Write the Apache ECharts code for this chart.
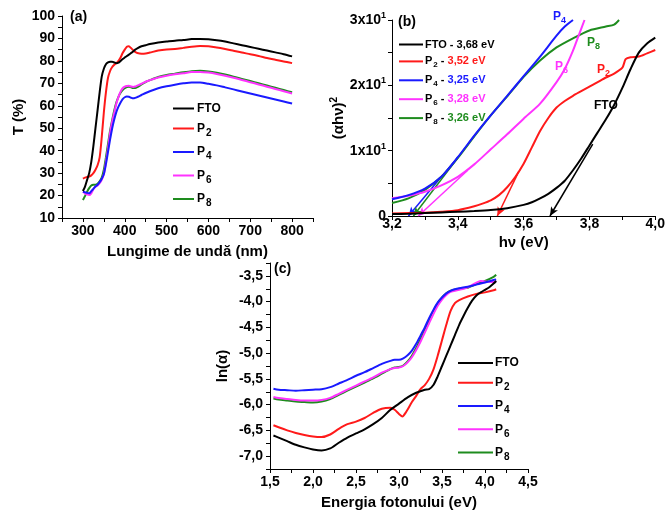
<!DOCTYPE html>
<html><head><meta charset="utf-8">
<script src="https://cdn.jsdelivr.net/npm/echarts@6/dist/echarts.min.js"></script>
<style>html,body{margin:0;padding:0;background:#fff}#c{width:668px;height:512px}</style>
</head><body><div id="c"></div>
<script>
// ---------- common ----------
const seriesNames = ['FTO', 'P2', 'P4', 'P6', 'P8'];
const seriesColors = ['#000000', '#ff1a1a', '#1a1aff', '#ff33ff', '#1e8c1e'];
const gapLabels = ['3,68 eV', '3,52 eV', '3,25 eV', '3,28 eV', '3,26 eV'];

// ---------- panel (a): transmittance ----------
const wavelengthA = [300,305,310,315,320,325,330,335,340,345,350,355,360,365,370,375,380,385,390,395,400,405,410,415,420,425,430,440,450,460,480,500,520,540,560,580,600,620,640,660,680,700,720,740,760,780,800];
const tFTO = [22,24,27,30,35,42,50,58,66,73,76.5,78.5,79.3,79.6,79.6,79.3,79,79.2,80,80.8,81.5,82.2,82.8,83.5,84.2,85,85.6,86.5,87,87.5,88.2,88.6,89,89.3,89.7,89.8,89.6,89.2,88.6,87.8,87,86.2,85.4,84.6,83.8,83,82];
const tP2 = [27.5,28,28.3,28.5,29,30,31.5,33.5,37,46,57,66,72.5,75.5,77.3,78.3,79,80,81.5,83.5,85,86.3,86.5,85.7,84.8,84,83.5,83.2,83.3,83.7,84.6,85.1,85.3,85.8,86.3,86.6,86.5,86,85.3,84.5,83.7,83,82.2,81.3,80.5,79.7,79];
const tP4 = [21.7,21.5,21.2,21,22,23,24,24.8,26,27.5,29.5,34,39.5,45,50,54,57.3,59.6,61.5,63,63.8,64.1,64,63.6,63.3,63.5,63.9,64.8,65.7,66.5,67.8,68.7,69.4,70,70.4,70.4,69.8,69.1,68.2,67.3,66.4,65.5,64.6,63.7,62.8,61.9,61];
const tP6 = [21.7,21,20.5,20.2,21,22.8,23.9,24.5,25.5,27,29.5,35,41,48,53,57,61,64,66.3,67.8,68.5,68.8,68.9,68.6,68.4,68.6,69,69.8,70.7,71.4,72.6,73.4,74,74.5,75,75.1,74.8,74.2,73.4,72.5,71.5,70.5,69.5,68.5,67.5,66.5,65.5];
const tP8 = [18,19.8,21.7,23.3,24.5,24.8,24.8,25.2,26.3,28,31.5,37,43,49,53.7,58,61.5,64,65.8,67,67.8,68.3,68.5,68.2,67.9,67.9,68.3,69.5,70.6,71.4,72.8,73.7,74.3,74.9,75.4,75.6,75.3,74.7,73.9,73,72,71,70,69,68,67,66];
const valuesA = [tFTO, tP2, tP4, tP6, tP8];

// ---------- panel (b): Tauc plot ----------
const eB_FTO = [3.20,3.25,3.30,3.35,3.40,3.45,3.50,3.55,3.60,3.625,3.65,3.675,3.70,3.725,3.75,3.775,3.80,3.825,3.85,3.875,3.90,3.925,3.95,3.975,4.00];
const vB_FTO = [0.3,0.35,0.45,0.55,0.65,0.75,0.9,1.2,1.7,2.1,2.7,3.4,4.3,5.4,7.0,8.8,10.8,12.8,14.8,17,19.6,22.5,25,26.4,27.3];
const eB_P2 = [3.20,3.25,3.30,3.35,3.40,3.45,3.475,3.50,3.525,3.55,3.575,3.60,3.625,3.65,3.675,3.70,3.725,3.75,3.775,3.80,3.825,3.85,3.875,3.90,3.91,3.925,3.95,3.975,4.00];
const vB_P2 = [0.4,0.45,0.5,0.65,0.9,1.5,1.9,2.4,3.2,4.4,6.0,8.0,10.5,13.0,15.0,16.6,17.6,18.4,19.1,19.8,20.5,21.2,21.8,22.7,24.0,24.3,24.4,24.9,25.4];
const eB_P4 = [3.20,3.25,3.30,3.35,3.40,3.45,3.50,3.55,3.60,3.65,3.70,3.725,3.75];
const vB_P4 = [2.55,3.2,4.2,6.0,9.0,12.3,15.4,18.4,21.4,24.4,27.6,29.0,30];
const eB_P6 = [3.20,3.25,3.30,3.35,3.40,3.45,3.50,3.55,3.60,3.65,3.70,3.725,3.75,3.77,3.785];
const vB_P6 = [2.7,3.1,3.7,4.7,6.0,7.9,10.2,12.5,14.9,17.2,20.5,22.5,25.3,28.0,30];
const eB_P8 = [3.20,3.25,3.30,3.35,3.40,3.45,3.50,3.55,3.60,3.65,3.70,3.75,3.80,3.85,3.875,3.89];
const vB_P8 = [2.0,2.7,4.0,6.0,8.9,12.2,15.4,18.3,21.3,23.8,25.8,27.2,28.4,29.0,29.3,30];
const energyB = [eB_FTO, eB_P2, eB_P4, eB_P6, eB_P8];
const valuesB = [vB_FTO, vB_P2, vB_P4, vB_P6, vB_P8];
// tangent (extrapolation) lines: [intercept point, upper point]
const tangentFTO = [[3.68, 0], [3.81, 11]];
const tangentP2 = [[3.52, 0], [3.585, 6.8]];
const tangentP4 = [[3.25, 0], [3.40, 9.0]];
const tangentP6 = [[3.28, 0], [3.43, 7.0]];
const tangentP8 = [[3.265, 0], [3.40, 8.9]];
const tangentsB = [tangentFTO, tangentP2, tangentP4, tangentP6, tangentP8];

// ---------- panel (c): ln(alpha) ----------
const eC_FTO = [1.54,1.6,1.7,1.8,1.9,2.0,2.1,2.2,2.3,2.4,2.5,2.6,2.7,2.8,2.9,3.0,3.1,3.2,3.3,3.35,3.4,3.45,3.5,3.55,3.6,3.65,3.7,3.75,3.8,3.85,3.9,3.95,4.0,4.05,4.1,4.13];
const vC_FTO = [-6.60,-6.64,-6.71,-6.78,-6.83,-6.87,-6.89,-6.85,-6.74,-6.64,-6.56,-6.48,-6.38,-6.26,-6.10,-5.98,-5.86,-5.77,-5.71,-5.70,-5.62,-5.45,-5.25,-5.05,-4.85,-4.65,-4.45,-4.28,-4.12,-3.98,-3.88,-3.82,-3.77,-3.72,-3.65,-3.60];
const eC_P2 = [1.54,1.6,1.7,1.8,1.9,2.0,2.1,2.2,2.3,2.4,2.5,2.6,2.7,2.8,2.9,2.95,3.0,3.04,3.08,3.15,3.2,3.25,3.3,3.35,3.4,3.45,3.5,3.55,3.6,3.65,3.7,3.8,3.9,4.0,4.1,4.13];
const vC_P2 = [-6.40,-6.44,-6.50,-6.55,-6.59,-6.62,-6.63,-6.58,-6.47,-6.38,-6.33,-6.26,-6.16,-6.08,-6.06,-6.10,-6.18,-6.23,-6.15,-5.95,-5.83,-5.70,-5.62,-5.50,-5.32,-5.05,-4.75,-4.45,-4.18,-4.03,-3.97,-3.90,-3.85,-3.82,-3.78,-3.76];
const eC_P4 = [1.54,1.6,1.7,1.8,1.9,2.0,2.1,2.2,2.3,2.4,2.5,2.6,2.7,2.8,2.9,2.95,3.0,3.05,3.1,3.15,3.2,3.25,3.3,3.35,3.4,3.45,3.5,3.55,3.6,3.65,3.7,3.8,3.9,4.0,4.1,4.13];
const vC_P4 = [-5.69,-5.71,-5.72,-5.73,-5.72,-5.71,-5.70,-5.66,-5.59,-5.52,-5.44,-5.37,-5.29,-5.21,-5.15,-5.13,-5.13,-5.10,-5.04,-4.95,-4.82,-4.66,-4.50,-4.32,-4.16,-4.02,-3.92,-3.84,-3.79,-3.76,-3.74,-3.71,-3.67,-3.63,-3.58,-3.57];
const eC_P6 = [1.54,1.6,1.7,1.8,1.9,2.0,2.1,2.2,2.3,2.4,2.5,2.6,2.7,2.8,2.9,2.95,3.0,3.05,3.1,3.15,3.2,3.25,3.3,3.35,3.4,3.45,3.5,3.55,3.6,3.7,3.8,3.9,3.95,4.0,4.1,4.13];
const vC_P6 = [-5.85,-5.87,-5.89,-5.91,-5.92,-5.92,-5.91,-5.87,-5.79,-5.71,-5.63,-5.55,-5.47,-5.38,-5.31,-5.29,-5.28,-5.25,-5.18,-5.08,-4.94,-4.78,-4.60,-4.42,-4.24,-4.08,-3.96,-3.87,-3.81,-3.77,-3.72,-3.63,-3.60,-3.61,-3.62,-3.60];
const eC_P8 = [1.54,1.6,1.7,1.8,1.9,2.0,2.1,2.2,2.3,2.4,2.5,2.6,2.7,2.8,2.9,2.95,3.0,3.05,3.1,3.15,3.2,3.25,3.3,3.35,3.4,3.45,3.5,3.55,3.6,3.7,3.8,3.9,4.0,4.1,4.13];
const vC_P8 = [-5.88,-5.90,-5.92,-5.94,-5.95,-5.96,-5.94,-5.89,-5.81,-5.73,-5.65,-5.57,-5.49,-5.40,-5.31,-5.28,-5.27,-5.24,-5.16,-5.05,-4.90,-4.73,-4.55,-4.36,-4.18,-4.03,-3.92,-3.84,-3.79,-3.75,-3.73,-3.66,-3.60,-3.52,-3.48];
const energyC = [eC_FTO, eC_P2, eC_P4, eC_P6, eC_P8];
const valuesC = [vC_FTO, vC_P2, vC_P4, vC_P6, vC_P8];

// ---------- tick labels / titles ----------
const xTitleA = 'Lungime de undă (nm)';
const yTitleA = 'T (%)';
const xTitleB = 'hν (eV)';
const xTitleC = 'Energia fotonului (eV)';
const yTitleC = 'ln(α)';

// ---------- build ----------
const FF = '"Liberation Sans", Arial, sans-serif';
const comma = v => String(v).replace('.', ',');
const near = (v, step) => Math.abs(v / step - Math.round(v / step)) < 1e-6;

function axisBase(gridIndex, min, max, interval, fmt, margin) {
  return {
    gridIndex, type: 'value', min, max, interval,
    axisLine: { show: true, onZero: false, lineStyle: { color: '#000', width: 1 } },
    axisTick: { show: true, length: 4, lineStyle: { color: '#000', width: 1 } },
    splitLine: { show: false },
    axisLabel: { color: '#000', fontFamily: FF, fontWeight: 'bold', fontSize: 14, margin, formatter: fmt, showMinLabel: true, showMaxLabel: true },
    nameTextStyle: { color: '#000', fontFamily: FF, fontWeight: 'bold', fontSize: 15 }
  };
}

const xA = Object.assign(axisBase(0, 250, 850, 50, v => near(v, 100) && v >= 300 && v <= 800 ? String(v) : '', 6),
  { name: xTitleA, nameLocation: 'middle', nameGap: 26 });
const yA = Object.assign(axisBase(0, 10, 100, 5, v => near(v, 10) ? String(v) : '', 7),
  { name: yTitleA, nameLocation: 'middle', nameGap: 36, nameRotate: 90 });

const xB = Object.assign(axisBase(1, 3.2, 4.0, 0.1, v => near(v, 0.2) ? comma(v.toFixed(1)) : '', 1),
  { name: xTitleB, nameLocation: 'middle', nameGap: 19 });
const yB = Object.assign(axisBase(1, 0, 30, 5, v => v === 0 ? '{m|0}' : (near(v, 10) ? '{m|' + (v / 10) + 'x10}{p|1}' : ''), 6),
  { name: '(αhν){p|2}', nameLocation: 'middle', nameGap: 44, nameRotate: 90 });
yB.axisLabel.rich = {
  m: { fontFamily: FF, fontWeight: 'bold', fontSize: 14, color: '#000' },
  p: { fontFamily: FF, fontWeight: 'bold', fontSize: 9, color: '#000', padding: [0, 0, 9, 0] }
};
yB.nameTextStyle.rich = {
  p: { fontFamily: FF, fontWeight: 'bold', fontSize: 10, color: '#000', padding: [0, 0, 9, 0] }
};

const xC = Object.assign(axisBase(2, 1.5, 4.5, 0.25, v => near(v, 0.5) ? comma(v.toFixed(1)) : '', 6),
  { name: xTitleC, nameLocation: 'middle', nameGap: 26 });
const yC = Object.assign(axisBase(2, -7.25, -3.25, 0.25, v => (near(v, 0.5) && v >= -7.0 && v <= -3.5) ? comma(v.toFixed(1)) : '', 7),
  { name: yTitleC, nameLocation: 'middle', nameGap: 40, nameRotate: 90 });

const series = [];
seriesNames.forEach((n, i) => {
  series.push({
    name: 'a:' + n, type: 'line', xAxisIndex: 0, yAxisIndex: 0, symbol: 'none', smooth: 0.25,
    lineStyle: { color: seriesColors[i], width: 2 }, itemStyle: { color: seriesColors[i] },
    data: wavelengthA.map((x, k) => [x, valuesA[i][k]]), z: 10 - i
  });
});
seriesNames.forEach((n, i) => {
  const t = tangentsB[i];
  series.push({
    name: 'b:' + n, type: 'line', xAxisIndex: 1, yAxisIndex: 1, symbol: 'none', smooth: 0.25,
    lineStyle: { color: seriesColors[i], width: 2 }, itemStyle: { color: seriesColors[i] },
    data: energyB[i].map((x, k) => [x, valuesB[i][k]]), z: 10 - i,
    markLine: {
      silent: true, symbol: ['arrow', 'none'], symbolSize: [6, 9], label: { show: false },
      lineStyle: { color: seriesColors[i], width: 1.5, type: 'solid' },
      data: [[{ coord: t[0] }, { coord: t[1] }]]
    }
  });
});
seriesNames.forEach((n, i) => {
  series.push({
    name: 'c:' + n, type: 'line', xAxisIndex: 2, yAxisIndex: 2, symbol: 'none', smooth: 0.25,
    lineStyle: { color: seriesColors[i], width: 2 }, itemStyle: { color: seriesColors[i] },
    data: energyC[i].map((x, k) => [x, valuesC[i][k]]), z: 10 - i
  });
});

function nameRich(n) {
  return n === 'FTO' ? '{k|FTO}' : '{k|P}{s|' + n.slice(1) + '}';
}
const richAC = {
  k: { fontFamily: FF, fontWeight: 'bold', fontSize: 12, color: '#000', lineHeight: 20 },
  s: { fontFamily: FF, fontWeight: 'bold', fontSize: 10, color: '#000', padding: [9, 0, 0, 1] }
};
const richB = {
  k: { fontFamily: FF, fontWeight: 'bold', fontSize: 11, color: '#000', lineHeight: 16 },
  s: { fontFamily: FF, fontWeight: 'bold', fontSize: 8, color: '#000', padding: [7, 0, 0, 1] },
  c0: { fontFamily: FF, fontWeight: 'bold', fontSize: 11, color: seriesColors[0] },
  c1: { fontFamily: FF, fontWeight: 'bold', fontSize: 11, color: seriesColors[1] },
  c2: { fontFamily: FF, fontWeight: 'bold', fontSize: 11, color: seriesColors[2] },
  c3: { fontFamily: FF, fontWeight: 'bold', fontSize: 11, color: seriesColors[3] },
  c4: { fontFamily: FF, fontWeight: 'bold', fontSize: 11, color: seriesColors[4] }
};

const legendBase = { orient: 'vertical', icon: 'rect', itemHeight: 2, selectedMode: false, padding: 0 };
const legends = [
  Object.assign({}, legendBase, {
    left: 173, top: 102.5, itemWidth: 21, itemGap: 8,
    data: seriesNames.map(n => 'a:' + n),
    formatter: name => nameRich(name.slice(2)),
    textStyle: { rich: richAC, padding: [0, 0, 0, -2] }
  }),
  Object.assign({}, legendBase, {
    left: 399, top: 39, itemWidth: 24, itemGap: 5.9,
    data: seriesNames.map(n => 'b:' + n),
    formatter: name => {
      const n = name.slice(2); const i = seriesNames.indexOf(n);
      return nameRich(n) + '{k| - }{c' + i + '|' + gapLabels[i] + '}';
    },
    textStyle: { rich: richB, padding: [0, 0, 0, -3] }
  }),
  Object.assign({}, legendBase, {
    left: 458, top: 357, itemWidth: 35, itemGap: 7.75,
    data: seriesNames.map(n => 'c:' + n),
    formatter: name => nameRich(name.slice(2)),
    textStyle: { rich: richAC, padding: [0, 0, 0, -3] }
  })
];

const panelFont = 'bold 14px ' + FF;
const lblFont = 'bold 12px ' + FF;
const subRich = { s: { font: 'bold 9px ' + FF, padding: [8, 0, 0, 0] } };
const graphic = [
  { type: 'text', x: 70, y: 10, style: { text: '(a)', font: panelFont, fill: '#000' } },
  { type: 'text', x: 398, y: 15, style: { text: '(b)', font: panelFont, fill: '#000' } },
  { type: 'text', x: 274, y: 262, style: { text: '(c)', font: panelFont, fill: '#000' } },
  { type: 'text', x: 553, y: 8, style: { text: 'P{s|4}', font: lblFont, fill: seriesColors[2], rich: { s: Object.assign({ fill: seriesColors[2] }, subRich.s) } } },
  { type: 'text', x: 587, y: 34, style: { text: 'P{s|8}', font: lblFont, fill: seriesColors[4], rich: { s: Object.assign({ fill: seriesColors[4] }, subRich.s) } } },
  { type: 'text', x: 555, y: 58, style: { text: 'P{s|6}', font: lblFont, fill: seriesColors[3], rich: { s: Object.assign({ fill: seriesColors[3] }, subRich.s) } } },
  { type: 'text', x: 597, y: 61, style: { text: 'P{s|2}', font: lblFont, fill: seriesColors[1], rich: { s: Object.assign({ fill: seriesColors[1] }, subRich.s) } } },
  { type: 'text', x: 594, y: 100, style: { text: 'FTO', font: lblFont, fill: '#000' } }
];

const option = {
  backgroundColor: '#fff',
  animation: false,
  grid: [
    { left: 62, top: 16, width: 251, height: 202 },
    { left: 392, top: 20, width: 266, height: 196 },
    { left: 270, top: 263, width: 258, height: 206 }
  ],
  xAxis: [xA, xB, xC],
  yAxis: [yA, yB, yC],
  legend: legends,
  graphic,
  series
};
const chart = echarts.init(document.getElementById('c'), null, { renderer: 'canvas' });
chart.setOption(option);
</script></body></html>
